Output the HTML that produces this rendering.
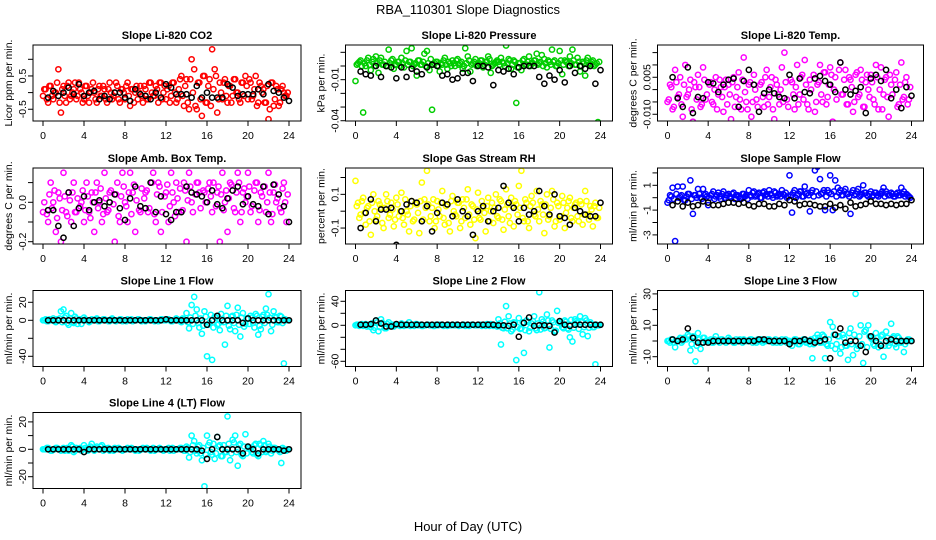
<!DOCTYPE html>
<html><head><meta charset="utf-8"><style>
html,body{margin:0;padding:0;background:#fff;}
svg{display:block;font-family:"Liberation Sans",Arial,sans-serif;}
</style></head><body>
<svg id="chart" width="936" height="540" viewBox="0 0 936 540" xmlns="http://www.w3.org/2000/svg">
<rect width="936" height="540" fill="#fff"/>
<text x="468" y="14" font-size="13" text-anchor="middle">RBA_110301  Slope Diagnostics</text>
<text x="468" y="531" font-size="13" text-anchor="middle">Hour of Day (UTC)</text>
</svg>
<script>
// ---- data ----
const xTicks = [0,4,8,12,16,20,24];
const blackHours = [0.5,1,1.5,2,2.5,3,3.5,4,4.5,5,5.5,6,6.5,7,7.5,8,8.5,9,9.5,10,10.5,11,11.5,12,12.5,13,13.5,14,14.5,15,15.5,16,16.5,17,17.5,18,18.5,19,19.5,20,20.5,21,21.5,22,22.5,23,23.5,24];
const colorHours = [0,0.25,0.5,0.75,1,1.25,1.5,1.75,2,2.25,2.5,2.75,3,3.25,3.5,3.75,4,4.25,4.5,4.75,5,5.25,5.5,5.75,6,6.25,6.5,6.75,7,7.25,7.5,7.75,8,8.25,8.5,8.75,9,9.25,9.5,9.75,10,10.25,10.5,10.75,11,11.25,11.5,11.75,12,12.25,12.5,12.75,13,13.25,13.5,13.75,14,14.25,14.5,14.75,15,15.25,15.5,15.75,16,16.25,16.5,16.75,17,17.25,17.5,17.75,18,18.25,18.5,18.75,19,19.25,19.5,19.75,20,20.25,20.5,20.75,21,21.25,21.5,21.75,22,22.25,22.5,22.75,23,23.25,23.5,23.75];
const bandHours = [0.125,0.375,0.625,0.875,1.125,1.375,1.625,1.875,2.125,2.375,2.625,2.875,3.125,3.375,3.625,3.875,4.125,4.375,4.625,4.875,5.125,5.375,5.625,5.875,6.125,6.375,6.625,6.875,7.125,7.375,7.625,7.875,8.125,8.375,8.625,8.875,9.125,9.375,9.625,9.875,10.125,10.375,10.625,10.875,11.125,11.375,11.625,11.875,12.125,12.375,12.625,12.875,13.125,13.375,13.625,13.875,14.125,14.375,14.625,14.875,15.125,15.375,15.625,15.875,16.125,16.375,16.625,16.875,17.125,17.375,17.625,17.875,18.125,18.375,18.625,18.875,19.125,19.375,19.625,19.875,20.125,20.375,20.625,20.875,21.125,21.375,21.625,21.875,22.125,22.375,22.625,22.875,23.125,23.375,23.625,23.875];

const co2Values = [-0.1,0.1,-0.3,0.2,-0.2,0.0,0.7,-0.6, 0.2,-0.3,0.3,-0.1,0.1,-0.2,0.3,0.0, -0.2,0.2,-0.3,0.1,0.0,-0.3,0.2,-0.1, 0.1,-0.3,0.3,-0.2,0.0,0.2,-0.3,0.1, -0.2,0.3,-0.4,0.1,0.0,-0.2,0.2,-0.3, 0.1,-0.2,0.3,-0.1,0.2,-0.3,0.3,0.0, -0.2,0.2,-0.1,0.3,-0.3,0.1,0.5,-0.4, 0.4,-0.5,1.0,0.7,-0.5,0.3,-0.7,0.5, -0.3,0.4,1.3,0.7,-0.6,0.3,-0.2,0.4, -0.3,0.2,-0.1,0.4,0.0,-0.3,0.3,0.5, -0.2,0.3,-0.1,0.5,-0.3,0.2,0.1,-0.3, -0.8,0.3,-0.4,0.2,-0.4,0.1,0.0,-0.1];
const co2Band = [0.1,-0.2,0.2,-0.1,0.0,0.3,-0.3,0.1, -0.1,0.2,-0.2,0.0,0.3,-0.1,0.1,-0.3, 0.2,-0.1,0.0,0.3,-0.2,0.1,-0.1,0.2, -0.2,0.1,0.0,-0.1,0.3,-0.2,0.1,0.0, 0.2,-0.1,0.1,-0.3,0.2,0.0,-0.1,0.2, -0.2,0.3,0.0,-0.1,0.1,0.3,-0.2,0.2, 0.1,-0.3,0.3,0.0,-0.2,0.4,-0.1,0.2, -0.3,0.4,0.0,-0.4,0.3,-0.2,0.5,-0.3, 0.2,-0.4,0.1,0.5,-0.2,0.0,0.3,-0.1, 0.2,-0.3,0.4,0.0,-0.2,0.3,-0.1,0.2, 0.4,-0.2,0.1,-0.4,0.3,0.0,-0.3,0.2, -0.5,0.3,-0.2,0.1,-0.3,0.2,-0.1,0.0];
const co2Black = [-0.15,0.05,-0.1,0.0,0.15,-0.05,0.25,-0.1,0.0,0.05,-0.2,-0.1,-0.2,0.0,0.0,-0.15,-0.25,0.1,-0.05,-0.1,-0.2,0.0,-0.15,0.25,0.15,-0.05,-0.05,-0.05,-0.15,0.2,-0.15,0.0,-0.15,-0.15,-0.15,0.25,0.15,-0.1,-0.05,-0.05,-0.05,0.1,-0.05,0.25,0.05,0.0,-0.15,-0.25];

const pressValues = [-0.011,0.002,0.004,-0.034,0.0,0.006,-0.003,0.005, 0.007,-0.005,0.006,0.001,0.0,0.012,0.004,-0.002, 0.001,0.003,0.006,-0.001,0.011,0.003,0.013,0.001, -0.007,0.004,0.001,0.009,0.011,-0.003,-0.032,0.002, 0.003,-0.004,0.001,0.006,-0.002,0.002,0.004,0.0, 0.005,0.002,-0.002,0.013,0.007,-0.004,0.002,0.005, 0.001,0.004,-0.001,0.003,0.007,-0.005,0.001,0.003, 0.003,0.006,0.002,0.015,0.005,-0.002,0.004,-0.027, 0.002,-0.003,0.005,0.001,0.007,0.002,0.004,0.009, 0.002,0.008,0.005,-0.001,0.003,0.012,0.004,0.0, 0.011,-0.006,0.004,0.003,0.007,0.012,0.001,0.006, -0.004,0.003,-0.007,0.006,0.002,0.004,0.001,-0.041];
const pressBand = [0.001,0.003,0.0,0.002,0.004,0.001,0.003,0.0, 0.002,0.004,0.001,0.003,0.0,0.002,0.005,0.001, 0.003,0.0,0.002,0.004,0.001,0.003,0.0,0.002, 0.004,0.001,0.003,0.0,0.002,0.005,0.001,0.003, 0.0,0.002,0.004,0.001,0.003,0.0,0.002,0.004, 0.001,0.003,0.0,0.002,0.004,0.001,0.003,0.0, 0.002,0.004,0.001,0.003,0.005,0.0,0.002,0.004, 0.001,0.003,0.0,0.002,0.004,0.001,0.003,-0.001, 0.002,0.004,0.001,0.003,0.0,0.002,0.004,0.001, 0.003,0.0,0.002,0.004,0.001,0.003,0.0,0.002, 0.004,0.001,0.003,0.0,0.002,0.004,0.001,0.003, 0.0,0.002,0.004,0.001,0.003,0.0,0.002,0.003];
const pressBlack = [-0.004,-0.006,-0.007,0.0,-0.008,0.0,-0.001,-0.009,-0.001,-0.008,-0.002,-0.004,-0.006,-0.001,0.001,0.0,-0.007,-0.006,-0.01,-0.009,-0.005,-0.005,-0.011,0.0,0.0,-0.001,-0.014,-0.003,-0.004,-0.002,-0.006,-0.001,0.0,0.0,0.0,-0.008,-0.013,-0.007,-0.01,-0.003,-0.012,0.0,-0.005,0.0,-0.002,0.0,-0.013,-0.003];

const tempValues = [-0.005,0.002,-0.008,0.008,-0.003,0.005,-0.011,0.01, -0.002,0.004,-0.013,0.001,0.006,-0.007,0.009,-0.004, -0.016,0.003,-0.006,0.005,-0.002,0.001,-0.009,0.004, 0.002,-0.012,0.005,-0.003,0.007,-0.008,0.013,-0.005, 0.002,-0.011,0.006,-0.004,-0.02,0.003,-0.007,0.008, -0.003,0.005,-0.012,0.002,-0.006,0.009,0.015,-0.004, 0.022,0.003,-0.008,0.01,-0.002,0.006,0.012,-0.006, 0.004,0.022,-0.009,0.002,0.01,-0.005,0.007,-0.003, 0.009,-0.013,0.005,-0.018,0.011,-0.002,0.008,-0.006, 0.004,-0.009,0.006,-0.003,0.008,-0.007,0.003,0.0, 0.006,-0.004,0.01,-0.008,0.009,-0.002,0.005,-0.011, 0.002,-0.015,0.007,-0.006,0.011,-0.003,0.005,-0.004];
const tempBand = [-0.004,0.001,-0.007,0.003,-0.002,-0.006,0.002,-0.003, 0.0,-0.008,0.003,-0.004,0.001,-0.006,0.004,-0.002, 0.002,-0.005,0.0,-0.008,0.004,-0.003,0.001,-0.006, -0.002,0.003,-0.007,0.001,-0.004,0.004,-0.001,-0.008, 0.003,-0.005,0.0,-0.007,0.002,-0.003,0.005,-0.006, 0.001,-0.008,0.004,-0.002,0.0,-0.005,0.003,-0.007, 0.004,-0.002,0.001,-0.006,0.005,-0.004,0.002,-0.008, 0.0,0.006,-0.005,0.003,-0.002,0.007,-0.006,0.002, 0.006,0.0,-0.004,0.008,-0.002,0.004,-0.006,0.005, 0.001,-0.005,0.007,-0.002,0.004,-0.007,0.006,-0.003, 0.003,-0.006,0.005,0.0,-0.008,0.004,-0.003,0.006, -0.002,0.004,-0.007,0.002,-0.004,0.003,-0.006,0.001];
const tempBlack = [0.005,-0.0035,-0.007,0.009,-0.0095,-0.003,-0.0035,0.003,0.0025,-0.001,0.002,0.004,0.0045,-0.007,0.0035,0.008,0.002,-0.009,-0.0015,0.0,-0.0015,-0.003,-0.0035,0.006,-0.0035,0.0045,-0.001,-0.0015,0.0045,0.0055,0.0035,0.002,-0.001,0.011,0.0,-0.002,-0.0005,0.001,-0.0095,0.0045,0.006,0.0035,0.008,-0.0035,0.0,-0.0075,0.001,-0.0025];

const boxValues = [-0.05,0.2,-0.1,0.1,0.0,-0.15,0.05,-0.2, 0.15,-0.05,0.05,-0.1,0.1,-0.05,0.2,0.0, -0.1,0.1,-0.05,0.05,-0.15,0.1,0.0,-0.1, 0.15,-0.05,0.05,0.2,-0.2,0.1,-0.1,0.15, 0.0,-0.1,0.15,0.05,-0.15,0.2,-0.05,0.25, 0.05,-0.05,0.3,0.15,-0.1,0.1,-0.15,0.2, 0.05,-0.1,0.15,0.0,0.1,-0.05,-0.25,0.1, -0.2,0.15,0.0,-0.25,0.1,0.05,0.2,0.05, 0.25,0.1,-0.05,0.2,0.05,-0.2,0.15,0.0, -0.15,0.1,0.2,-0.05,0.15,-0.1,0.05,0.0, 0.15,-0.05,0.25,0.1,-0.1,0.05,0.2,-0.05, 0.15,-0.1,0.05,0.0,0.25,-0.05,0.1,-0.1];
const boxBand = [0.0,-0.06,0.04,-0.03,0.06,-0.08,0.02,-0.04, 0.03,-0.07,0.01,0.05,-0.05,0.02,-0.02,0.06, -0.04,0.03,-0.08,0.0,0.05,-0.03,0.07,-0.06, 0.02,-0.04,0.06,-0.01,0.04,-0.07,0.03,0.08, -0.02,0.05,-0.06,0.09,0.01,-0.04,0.07,0.02, 0.06,-0.03,0.1,-0.06,0.04,0.08,-0.05,0.03, 0.09,-0.02,0.05,-0.07,0.02,0.07,-0.04,0.06, 0.01,0.08,-0.05,0.04,0.1,-0.03,0.06,0.0, 0.07,0.03,0.1,-0.02,0.08,0.04,-0.04,0.06, 0.02,0.09,-0.03,0.05,0.1,-0.05,0.07,0.03, 0.08,-0.02,0.06,0.1,-0.04,0.03,0.08,0.0, 0.05,-0.06,0.09,0.02,-0.03,0.07,0.0,0.04];
const boxBlack = [-0.04,-0.04,-0.12,-0.18,0.05,-0.12,-0.03,0.03,-0.04,0.0,0.01,-0.02,0.0,0.04,-0.03,-0.09,0.02,0.08,-0.02,-0.03,0.1,-0.05,0.03,-0.06,-0.09,-0.05,-0.05,0.08,0.05,0.04,0.03,0.0,0.06,-0.01,-0.03,0.02,0.06,0.08,-0.01,0.03,-0.01,-0.02,0.08,-0.06,0.09,0.04,-0.02,-0.1];

const rhValues = [0.18,0.05,-0.02,0.08,-0.08,0.03,-0.14,0.1, -0.05,0.06,0.02,-0.1,0.1,-0.04,0.05,-0.09, 0.08,-0.03,0.11,-0.08,0.0,-0.12,0.06,-0.05, 0.04,-0.13,0.17,0.07,0.24,-0.06,0.02,-0.1, 0.06,-0.03,0.12,-0.08,0.04,-0.12,0.09,-0.02, 0.05,-0.1,0.07,-0.04,0.13,-0.08,0.03,-0.16, 0.11,-0.05,0.02,-0.12,0.08,0.0,-0.07,0.1, -0.04,0.06,-0.11,0.13,-0.03,0.08,-0.09,0.04, 0.15,0.24,-0.06,0.05,-0.1,0.09,-0.02,0.12, -0.06,0.04,-0.13,0.1,-0.03,0.12,-0.09,0.05, -0.05,0.09,-0.1,0.02,0.08,-0.06,0.04,-0.03, 0.06,-0.08,0.12,-0.02,0.03,-0.09,0.05,-0.04];
const rhBand = [0.03,-0.04,0.06,-0.01,0.02,-0.06,0.05,0.0, -0.03,0.04,-0.07,0.02,0.06,-0.02,0.01,-0.05, 0.04,0.0,-0.04,0.07,-0.02,0.03,-0.06,0.05, -0.01,0.06,-0.05,0.02,0.04,-0.03,0.07,-0.06, 0.01,0.05,-0.04,0.03,-0.07,0.06,0.0,-0.03, 0.05,-0.06,0.02,0.07,-0.02,0.04,-0.05,0.01, -0.04,0.06,-0.01,0.03,-0.06,0.05,0.02,-0.03, 0.07,-0.05,0.01,0.04,-0.07,0.03,0.06,-0.02, 0.02,-0.04,0.07,-0.06,0.03,0.05,-0.03,0.01, 0.06,-0.02,0.04,-0.05,0.02,0.07,-0.06,0.03, -0.03,0.05,-0.01,0.06,-0.04,0.02,0.05,-0.06, 0.04,-0.02,0.06,-0.05,0.01,0.03,-0.04,0.02];
const rhBlack = [-0.1,-0.01,0.07,-0.06,0.01,0.01,0.02,-0.2,0.0,0.04,0.06,0.05,-0.06,0.03,-0.12,-0.01,0.05,0.04,-0.03,0.07,0.0,-0.03,-0.14,0.0,0.03,-0.06,0.0,0.02,0.15,0.05,0.02,-0.06,0.02,-0.02,0.0,0.12,0.03,-0.02,0.1,-0.03,-0.04,-0.08,0.02,0.0,-0.02,-0.03,-0.03,0.05];

const flowValues = [-0.4,0.2,0.8,-3.5,0.9,0.1,0.9,-0.2, 0.3,1.4,-1.3,0.2,0.7,0.0,0.7,0.3, -0.6,0.2,0.5,0.1,0.4,-0.1,0.5,0.2, 0.3,0.0,0.4,0.2,0.1,-0.1,0.3,0.2, 0.6,0.1,0.5,0.2,0.4,0.0,0.5,0.3, 0.6,0.2,0.5,0.1,0.3,0.6,0.2,0.0, 1.8,-1.2,0.6,0.2,0.5,0.1,0.9,0.4, -1.1,0.6,2.2,2.5,1.5,0.4,-1.0,0.6, 1.8,-1.0,1.4,0.8,0.6,0.2,0.7,0.3, -1.3,0.6,0.3,0.7,0.2,1.0,0.4,0.1, 0.5,0.2,0.4,0.1,0.3,0.8,0.5,0.2, 0.4,0.1,0.3,0.2,0.8,0.5,0.3,0.1];
const flowBand = [-0.2,0.1,-0.1,0.3,0.0,0.2,-0.2,0.1, 0.3,-0.1,0.2,0.0,0.3,-0.1,0.2,0.1, 0.0,0.3,-0.1,0.2,0.1,0.3,0.0,0.2, 0.1,0.3,-0.1,0.2,0.0,0.3,0.1,-0.1, 0.2,0.4,0.1,0.3,0.0,0.4,0.2,0.1, 0.3,0.0,0.4,0.2,0.1,0.3,0.4,0.1, 0.2,0.4,0.0,0.3,0.5,0.1,0.3,0.2, 0.4,0.1,0.5,0.2,0.3,0.6,0.1,0.4, 0.3,0.5,0.1,0.4,0.2,0.5,0.3,0.1, 0.4,0.2,0.5,0.1,0.3,0.4,0.2,0.3, 0.1,0.4,0.2,0.3,0.5,0.1,0.3,0.2, 0.3,0.1,0.4,0.2,0.3,0.1,0.2,0.0];
const flowBlack = [-0.6,-0.3,-0.7,-0.4,-0.7,-0.6,-0.3,-0.4,-0.6,-0.6,-0.5,-0.4,-0.4,-0.5,-0.4,-0.6,-0.7,-0.5,-0.5,-0.7,-0.7,-0.5,-0.6,-0.2,-0.3,-0.6,-0.5,-0.5,-0.6,-0.7,-0.7,-0.5,-0.8,-0.6,-0.9,-0.4,-0.7,-0.6,-0.5,-0.3,-0.5,-0.5,-0.6,-0.5,-0.6,-0.5,-0.5,-0.2];

const line1Values = [0,1,-1,0,2,-2,0,10, 12,5,-5,8,-3,2,0,-4, 3,0,-2,1,0,2,-1,0, 1,0,-1,2,0,0,1,-1, 0,1,0,-1,0,1,0,0, -1,0,1,0,0,-1,1,0, 0,1,-1,0,2,0,-2,1, 8,-9,17,26,12,-8,-15,10, -40,-3,-44,4,-5,-11,0,-27, 16,-10,5,-12,14,-18,8,-4, 2,5,-3,7,-16,-10,6,13, 29,-12,10,3,-2,4,-48,0];
const line1Band = [0,-1,1,0,-1,1,2,-2, 3,-3,2,-2,4,-4,1,0, 1,0,-1,0,1,-1,0,1, 0,-1,1,0,-1,0,1,0, -1,0,1,0,0,1,-1,0, 0,1,0,-1,0,0,1,0, 1,0,-1,0,1,-1,2,0, -2,3,-4,5,-3,2,-6,4, -5,6,-8,3,-4,7,-2,5, -6,4,-3,6,-5,3,-7,2, -4,3,-8,5,-6,4,-3,6, 3,-5,4,-2,5,-3,1,0];
const line1Black = [0,0,0,0,0,0,0,0,0,0,0,0,0,0,0,0,0,0,0,0,0,0,0,1,0,0,0,0,0,0,0,-5,0,5,0,0,0,0,-3,2,0,0,0,0,0,0,0,0];

const line2Values = [0,1,0,-1,2,0,-3,-8, 8,-10,10,2,-5,5,0,-2, 1,0,3,-1,0,5,0,-1, 2,0,-1,0,1,0,0,-1, 0,1,0,0,-1,0,1,0, 0,0,1,-1,0,0,1,0, 0,1,0,-1,0,2,-1,0, 10,-32,-5,32,15,-10,5,-58, 12,-5,-46,8,-10,3,15,-8, 55,10,-5,18,-37,8,-10,24, 6,-3,8,-5,-20,-27,10,5, 15,-15,12,-18,5,-3,-65,0];
const line2Band = [1,-1,2,0,-2,1,3,-4, 5,-3,4,-5,2,-1,1,0, 1,-1,2,0,1,-1,0,2, 0,1,-1,0,1,0,-1,1, 0,1,-1,0,1,0,0,1, -1,0,1,0,-1,1,0,0, 1,-1,0,2,-1,1,0,-2, 3,-4,6,-5,3,-7,4,-3, -6,5,-8,6,-4,7,-5,3, -7,6,-4,8,-6,5,-9,4, 3,-5,6,-7,9,-4,7,-6, 5,-3,8,-4,2,-3,1,0];
const line2Black = [1,1,2,8,3,-2,-2,2,1,1,1,1,1,1,1,1,1,1,1,1,1,1,1,1,1,1,1,0,0,-1,1,-19,4,13,-1,0,0,-1,-12,7,1,-1,1,1,1,1,1,1];

const line3Values = [0,-1,1,-4,0,2,0,1, 4,-6,3,-13,5,-5,2,0, 0,1,-1,3,0,1,0,-1, 2,0,-1,1,0,0,1,0, 0,1,0,-1,0,1,0,0, 1,0,0,-1,0,1,0,-1, 0,-3,1,0,-2,0,1,-1, -2,-11,2,4,-1,4,-11,-3, 12,9,-5,3,-8,4,-3,-12, 8,-9,30,-3,10,-14,7,10, 2,-2,5,-4,3,-10,6,-3, 11,3,-4,2,-1,-7,0,1];
const line3Band = [0,1,-1,0,1,-1,2,1, 3,-2,2,-3,1,-1,2,0, 0,-1,1,0,-1,1,0,0, 1,0,-1,0,1,-1,0,0, 1,-1,0,1,0,-1,0,1, 0,-1,1,0,-1,0,1,0, -1,0,1,-2,0,1,-1,0, 1,-2,0,2,-1,3,-2,1, -3,4,-2,3,-4,2,-3,5, -2,4,-5,3,-2,6,-4,3, 1,-3,2,-2,4,-3,2,-1, 2,-2,3,-1,0,-2,1,0];
const line3Black = [1,0,1,8,2,-1,-1,-1,0,0,0,0,0,0,0,0,0,1,1,0,0,0,0,-2,0,0,1,0,-1,0,1,-11,4,8,-1,0,0,-3,-7,3,0,-3,0,1,0,0,0,0];

const line4Values = [0,0,1,-1,0,1,0,-1, 1,0,-1,3,-2,1,0,-1, 3,0,1,4,-1,2,0,3, 1,0,-1,0,1,0,0,-1, 0,1,0,0,-1,0,0,1, 0,0,-1,1,0,0,0,-1, 0,1,0,-1,0,0,1,-1, 2,-6,10,6,-3,3,-8,-27, 10,5,-4,-7,9,3,-5,-2, 24,-8,7,10,-12,4,-5,11, 2,0,-3,4,-5,3,6,-2, 4,-3,1,0,-1,-10,0,-1];
const line4Band = [0,1,0,-1,0,1,0,0, -1,1,0,2,-1,0,1,0, 1,-1,2,0,1,0,2,-1, 0,1,0,-1,0,1,0,0, 0,0,1,0,0,-1,0,0, 1,0,0,-1,0,1,0,0, 0,-1,1,0,0,1,0,-1, 1,-2,3,-1,2,-3,1,-4, 3,-2,4,-3,2,-5,3,-2, 4,-3,5,-2,3,-4,2,-3, 1,-2,3,-4,4,-2,3,-1, 2,-1,1,0,-2,1,-1,0];
const line4Black = [0,0,0,0,0,0,0,-2,0,0,0,0,0,0,0,0,0,0,0,0,0,0,0,0,0,0,0,0,0,0,-1,-7,0,9,0,0,0,0,-3,2,0,-3,0,0,0,0,-1,0];

const co2Ticks = [1,0.5,0,-0.5];           const co2Labels = ["","0.5","","-0.5"];
const pressTicks = [0.01,0,-0.01,-0.02,-0.03,-0.04]; const pressLabels = ["","","-0.01","","","-0.04"];
const tempTicks = [0.015,0.01,0.005,0,-0.005,-0.01]; const tempLabels = ["","","0.005","","","-0.010"];
const boxTicks = [0.1,0,-0.1,-0.2];       const boxLabels = ["","0.0","","-0.2"];
const rhTicks = [0.2,0.1,0,-0.1];         const rhLabels = ["","0.1","","-0.1"];
const flowTicks = [2,1,0,-1,-2,-3];       const flowLabels = ["","1","","-1","","-3"];
const line1Ticks = [20,0,-20,-40];        const line1Labels = ["20","0","","-40"];
const line2Ticks = [40,20,0,-20,-40,-60]; const line2Labels = ["40","","0","","","-60"];
const line3Ticks = [30,20,10,0,-10];      const line3Labels = ["30","","10","","-10"];
const line4Ticks = [20,10,0,-10,-20];     const line4Labels = ["20","","0","","-20"];

// ---- layout (geometry only) ----
const NS = "http://www.w3.org/2000/svg";
const svg = document.getElementById("chart");
const colL = [33, 345.5, 657.5], colW = [268, 267, 266];
const rowT = [45, 168, 290.5, 412.5], boxH = 76;
const panels = [
 {key:"co2", title:"Slope Li-820 CO2", yt:"Licor ppm per min.", col:"#ff0000", v:co2Values, d:co2Band, b:co2Black, ticks:co2Ticks, labels:co2Labels, r:0,c:0, y0:92.6, s:33.3},
 {key:"pressure", title:"Slope Li-820 Pressure", yt:"kPa per min.", col:"#00cd00", v:pressValues, d:pressBand, b:pressBlack, ticks:pressTicks, labels:pressLabels, r:0,c:1, y0:66, s:1368},
 {key:"li820-temp", title:"Slope Li-820 Temp.", yt:"degrees C per min.", col:"#ff00ff", v:tempValues, d:tempBand, b:tempBlack, ticks:tempTicks, labels:tempLabels, r:0,c:2, y0:89.6, s:2467},
 {key:"amb-box-temp", title:"Slope Amb. Box Temp.", yt:"degrees C per min.", col:"#ff00ff", v:boxValues, d:boxBand, b:boxBlack, ticks:boxTicks, labels:boxLabels, r:1,c:0, y0:202.3, s:197},
 {key:"gas-stream-rh", title:"Slope Gas Stream RH", yt:"percent per min.", col:"#ffff00", v:rhValues, d:rhBand, b:rhBlack, ticks:rhTicks, labels:rhLabels, r:1,c:1, y0:211.2, s:168.5},
 {key:"sample-flow", title:"Slope Sample Flow", yt:"ml/min per min.", col:"#0000ff", v:flowValues, d:flowBand, b:flowBlack, ticks:flowTicks, labels:flowLabels, r:1,c:2, y0:197.7, s:12.4},
 {key:"line1-flow", title:"Slope Line 1 Flow", yt:"ml/min per min.", col:"#00ffff", v:line1Values, d:line1Band, b:line1Black, ticks:line1Ticks, labels:line1Labels, r:2,c:0, y0:320.3, s:0.9},
 {key:"line2-flow", title:"Slope Line 2 Flow", yt:"ml/min per min.", col:"#00ffff", v:line2Values, d:line2Band, b:line2Black, ticks:line2Ticks, labels:line2Labels, r:2,c:1, y0:325.3, s:0.6},
 {key:"line3-flow", title:"Slope Line 3 Flow", yt:"ml/min per min.", col:"#00ffff", v:line3Values, d:line3Band, b:line3Black, ticks:line3Ticks, labels:line3Labels, r:2,c:2, y0:341, s:1.57},
 {key:"line4-flow", title:"Slope Line 4 (LT) Flow", yt:"ml/min per min.", col:"#00ffff", v:line4Values, d:line4Band, b:line4Black, ticks:line4Ticks, labels:line4Labels, r:3,c:0, y0:449.3, s:1.37}
];

function mk(tag, attrs, parent){
  const e = document.createElementNS(NS, tag);
  for (const k in attrs) e.setAttribute(k, attrs[k]);
  (parent||svg).appendChild(e);
  return e;
}

panels.forEach(p => {
  const L = colL[p.c], W = colW[p.c], T = rowT[p.r], B = T + boxH;
  const xs = h => L + 10 + h * (W - 22) / 24;
  const ys = v => p.y0 - v * p.s;
  const g = mk("g", {});
  
  

  const clipId = "clip-" + p.key;
  const cp = mk("clipPath", {id: clipId}, g);
  mk("rect", {x:L, y:T, width:W, height:boxH}, cp);

  const title = mk("text", {x:L + W/2, y:T - 6, "font-size":11, "font-weight":"bold", "text-anchor":"middle"}, g);
  title.textContent = p.title;
  
  

  const yt = mk("text", {transform:`translate(${L-21},${T+boxH/2}) rotate(-90)`, "font-size":10.5, "text-anchor":"middle"}, g);
  yt.textContent = p.yt;
  
  

  const pts = mk("g", {"clip-path":`url(#${clipId})`, fill:"none", "stroke-width":1.5}, g);
  
  
  p.d.forEach((v, i) => {
    const c = mk("circle", {cx:xs(bandHours[i]), cy:ys(v), r:2.6, stroke:p.col}, pts);
    
    
  });
  p.v.forEach((v, i) => {
    const c = mk("circle", {cx:xs(colorHours[i]), cy:ys(v), r:2.6, stroke:p.col}, pts);
    
    
  });
  p.b.forEach((v, i) => {
    const c = mk("circle", {cx:xs(blackHours[i]), cy:ys(v), r:2.6, stroke:"#000"}, pts);
    
    
  });

  const box = mk("rect", {x:L, y:T, width:W, height:boxH, fill:"none", stroke:"#000", "stroke-width":1}, g);
  
  

  xTicks.forEach(t => {
    const x = xs(t);
    const tk = mk("line", {x1:x, x2:x, y1:B, y2:B+5, stroke:"#000"}, g);
    
    
    const lb = mk("text", {x:x, y:B+18, "font-size":10.5, "text-anchor":"middle"}, g);
    lb.textContent = t;
    
    
  });
  p.ticks.forEach((t, i) => {
    const y = ys(t);
    const tk = mk("line", {x1:L-5, x2:L, y1:y, y2:y, stroke:"#000"}, g);
    
    
    if (p.labels[i]) {
      const lb = mk("text", {transform:`translate(${L-7},${y}) rotate(-90)`, "font-size":10.5, "text-anchor":"middle"}, g);
      lb.textContent = p.labels[i];
      
      
    }
  });
});
</script>
</body></html>
